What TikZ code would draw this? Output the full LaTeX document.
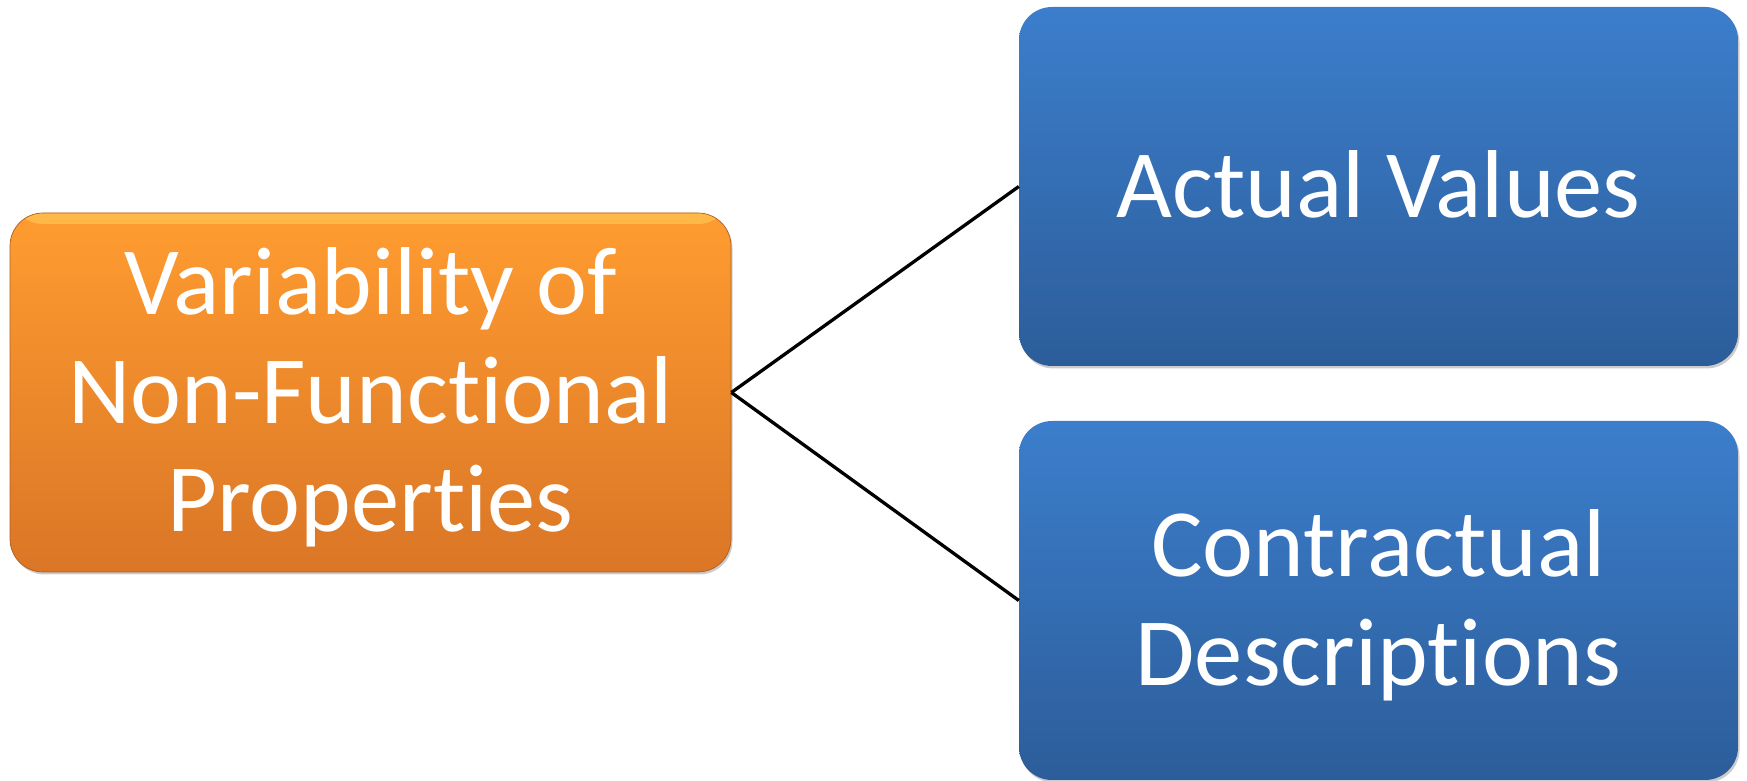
\documentclass[tikz,border=0pt]{standalone}
\usepackage{fontspec}
\setmainfont{Carlito}[Ligatures={NoCommon,NoRare,NoContextual}]
\usetikzlibrary{shadows}
\definecolor{orTop}{RGB}{255,156,48}
\definecolor{orHi}{RGB}{255,185,72}
\definecolor{orBot}{RGB}{218,118,38}
\definecolor{orEdge}{RGB}{175,95,32}
\definecolor{blTop}{RGB}{60,126,204}
\definecolor{blBot}{RGB}{44,93,154}
\tikzset{
  boxbase/.style={rectangle, rounded corners=33pt, minimum height=359pt, inner sep=0pt,
    drop shadow={shadow xshift=1.5pt, shadow yshift=-2.5pt, opacity=0.2, fill=black}},
  rootbox/.style={boxbase, minimum width=721pt, top color=orTop, bottom color=orBot,
    draw=orEdge, line width=0.7pt,
    path picture={\shade[top color=orHi, bottom color=orTop]
      ([yshift=1pt]path picture bounding box.north west) rectangle
      ([yshift=-11pt]path picture bounding box.north east);}},
  leafbox/.style={boxbase, minimum width=719pt, top color=blTop, bottom color=blBot},
  boxtext/.style={align=center, text=white, inner sep=0pt,
    font=\fontsize{96.5pt}{108.5pt}\selectfont},
  link/.style={draw=black, line width=3.3pt}
}
\begin{document}
\begin{tikzpicture}[x=1pt,y=1pt]
\useasboundingbox (0,0) rectangle (1747,781);
\node[rootbox] (root) at (370.5,388.5) {};
\node[leafbox] (actual) at (1378.5,594.5) {};
\node[leafbox] (contract) at (1378.5,180.5) {};
\node[boxtext] (roottext) at ([yshift=-5pt]root.center) {Variability of\\Non-Functional\\Properties};
\node[boxtext] (actualtext) at ([yshift=2pt]actual.center) {Actual Values};
\node[boxtext] (contracttext) at ([yshift=-5pt]contract.center) {Contractual\\Descriptions};
\draw[link] (root.east) -- (actual.west);
\draw[link] (root.east) -- (contract.west);
\end{tikzpicture}
\end{document}
